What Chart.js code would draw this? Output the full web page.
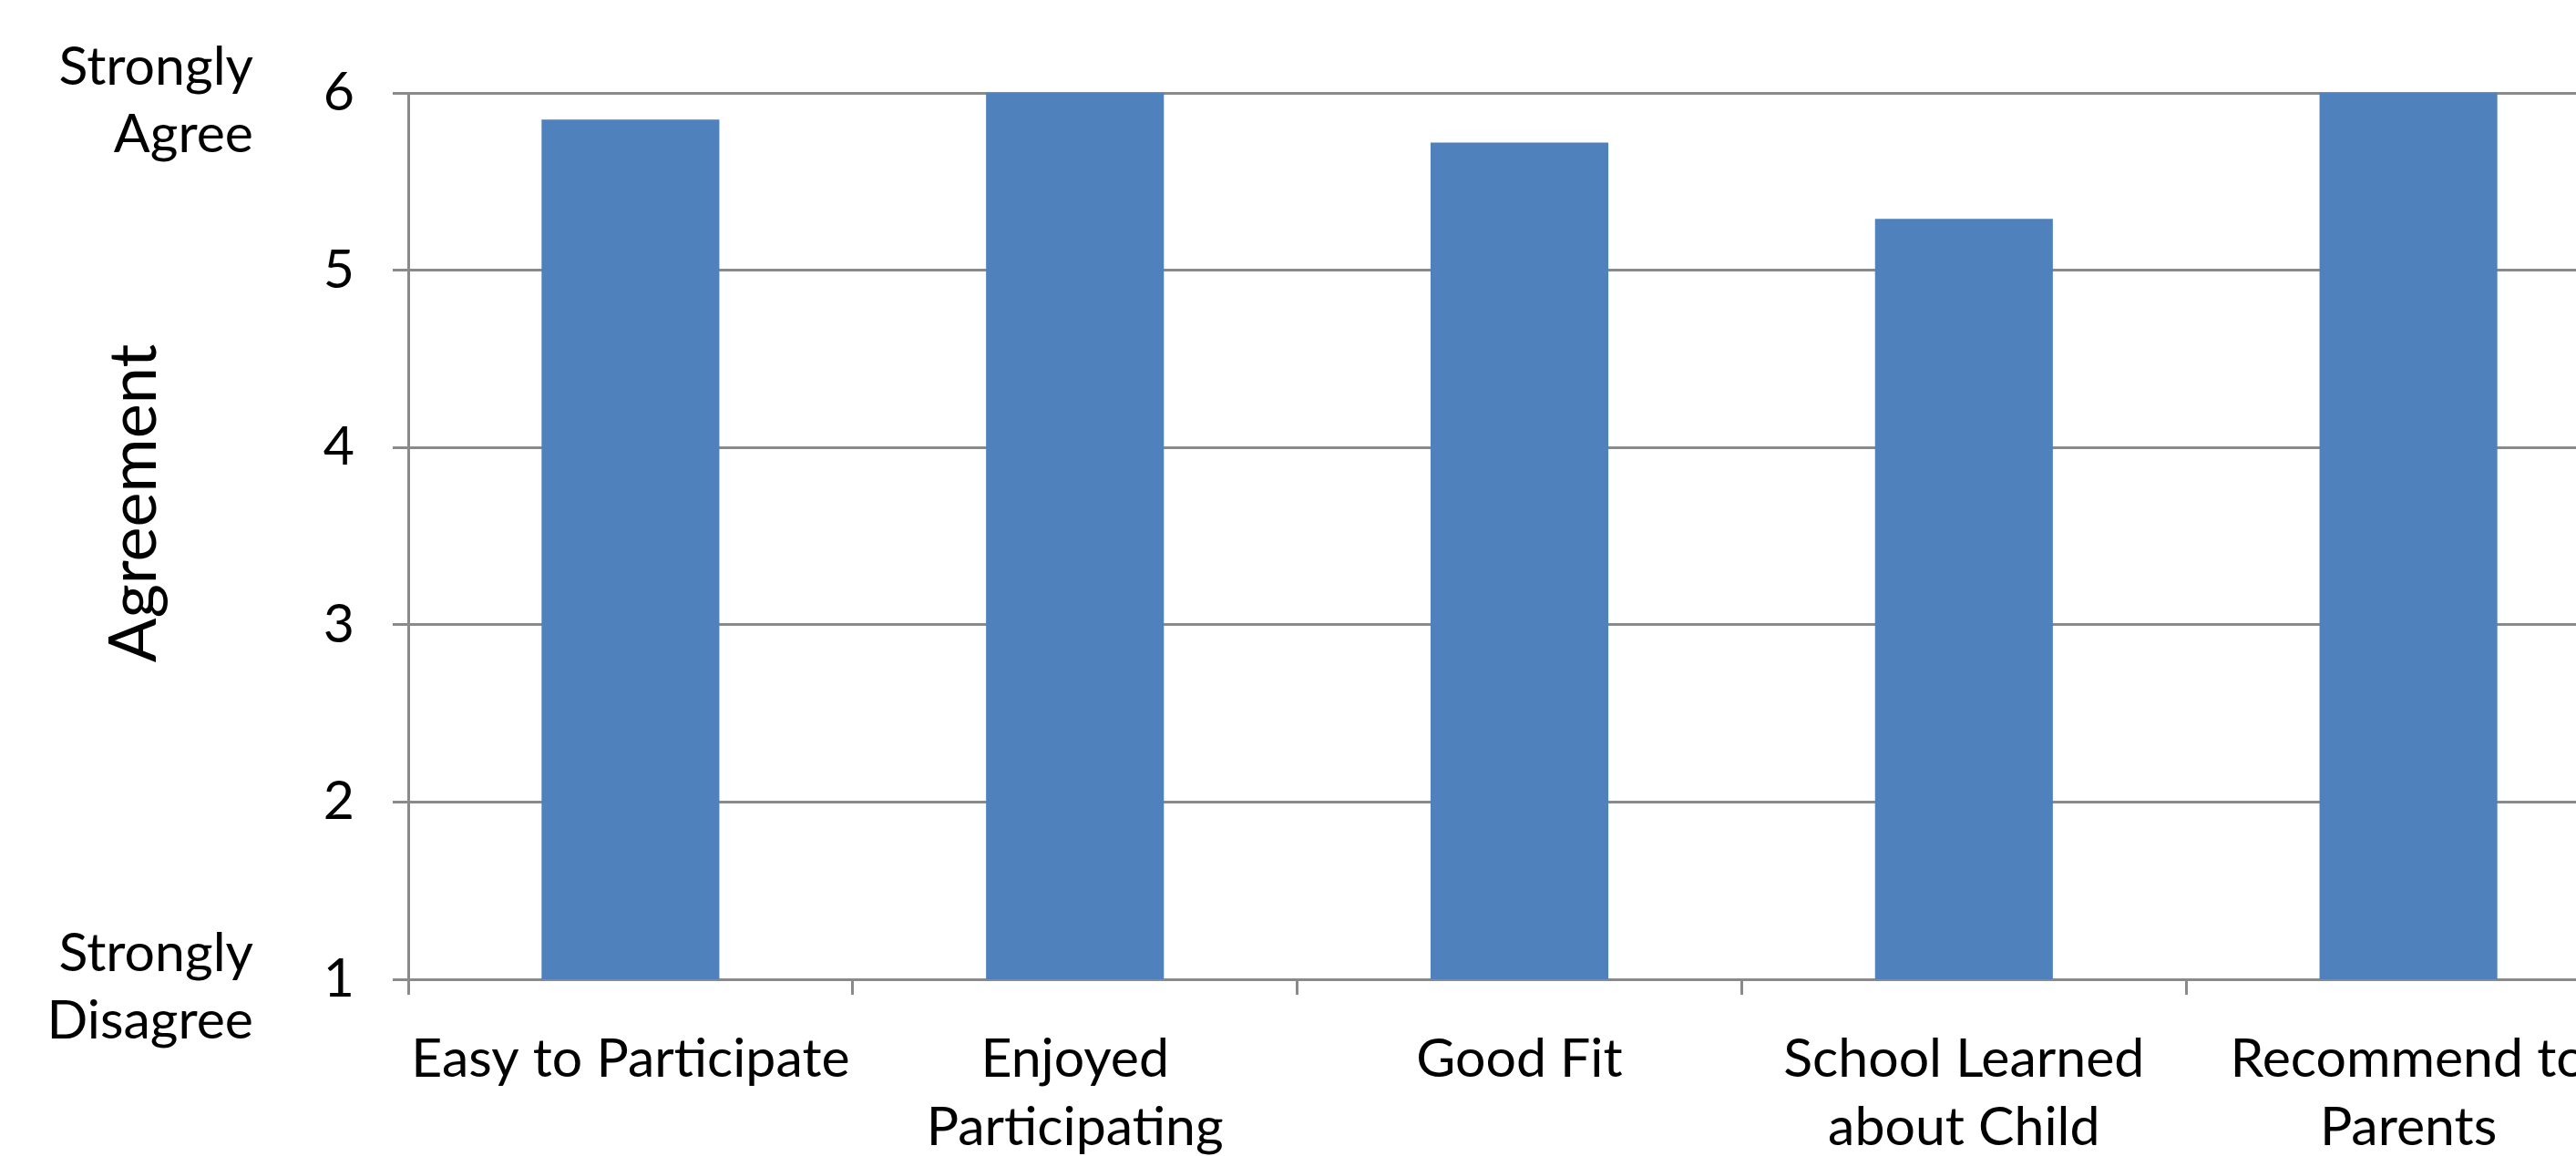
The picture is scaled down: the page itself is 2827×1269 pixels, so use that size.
<!DOCTYPE html>
<html>
<head>
<meta charset="utf-8">
<script src="https://cdn.jsdelivr.net/npm/chart.js@4"></script>
<style>
  html, body { margin: 0; padding: 0; background: #fff; overflow: hidden; }
  #wrap { width: 2900px; height: 1269px; }
</style>
</head>
<body>
<div id="wrap"><canvas id="grafico"></canvas></div>
<script>
const categories = [
  'Easy to Participate',
  ['Enjoyed', 'Participating'],
  'Good Fit',
  ['School Learned', 'about Child'],
  ['Recommend to', 'Parents']
];
const agreement = [5.85, 6.0, 5.72, 5.29, 6.0];
const scaleTicks = [1, 2, 3, 4, 5, 6];
const endLabels = { 1: ['Strongly', 'Disagree'], 6: ['Strongly', 'Agree'] };
const axisTitle = 'Agreement';

const GRID = '#8a8a8a';

// rotated title, drawn by hand so it can sit between the end labels
const axisTitlePlugin = {
  id: 'axisTitle',
  afterDraw(chart) {
    const { ctx, chartArea } = chart;
    ctx.save();
    ctx.translate(171, (chartArea.top + chartArea.bottom) / 2 - 36);
    ctx.rotate(-Math.PI / 2);
    ctx.font = '72px Lato';
    ctx.fillStyle = '#000';
    ctx.textAlign = 'center';
    ctx.textBaseline = 'alphabetic';
    ctx.fillText(axisTitle, 0, 0);
    ctx.restore();
  }
};

function draw() {
  Chart.defaults.font.family = 'Lato';
  Chart.defaults.color = '#000';

  const ctx = document.getElementById('grafico').getContext('2d');
  new Chart(ctx, {
    type: 'bar',
    data: {
      labels: categories,
      datasets: [{
        data: agreement,
        backgroundColor: '#4f81bd',
        borderWidth: 0,
        barPercentage: 0.4,
        categoryPercentage: 1.0
      }]
    },
    options: {
      responsive: true,
      maintainAspectRatio: false,
      animation: false,
      layout: { padding: { top: 102, left: 0, right: 13, bottom: 0 } },
      plugins: {
        legend: { display: false },
        tooltip: { enabled: false }
      },
      scales: {
        x: {
          offset: true,
          grid: {
            offset: true,
            drawOnChartArea: false,
            drawTicks: true,
            tickLength: 17,
            color: GRID,
            lineWidth: 3
          },
          border: { color: GRID, width: 3 },
          ticks: {
            font: { size: 59, lineHeight: 1.27 },
            padding: 34,
            maxRotation: 0,
            autoSkip: false
          },
          afterFit: (axis) => { axis.height = 194; }
        },
        y: {
          min: 1,
          max: 6,
          weight: 0,
          afterBuildTicks: (axis) => { axis.ticks = scaleTicks.map(v => ({ value: v })); },
          grid: { color: GRID, lineWidth: 3, tickLength: 17 },
          border: { color: GRID, width: 3 },
          ticks: { font: { size: 59 }, padding: 42 },
          afterFit: (axis) => { axis.width = 148; }
        },
        yEnds: {
          type: 'linear',
          position: 'left',
          min: 1,
          max: 6,
          weight: 1,
          afterBuildTicks: (axis) => { axis.ticks = scaleTicks.map(v => ({ value: v })); },
          grid: { display: false, drawTicks: false },
          border: { display: false },
          ticks: {
            font: { size: 59, lineHeight: 1.27 },
            padding: 22,
            labelOffset: 9,
            callback: (val) => endLabels[val] || ''
          },
          afterFit: (axis) => { axis.width = 300; }
        }
      }
    },
    plugins: [axisTitlePlugin]
  });
}

if (document.fonts && document.fonts.load) {
  document.fonts.load('59px Lato').then(draw, draw);
} else {
  draw();
}
</script>
</body>
</html>
